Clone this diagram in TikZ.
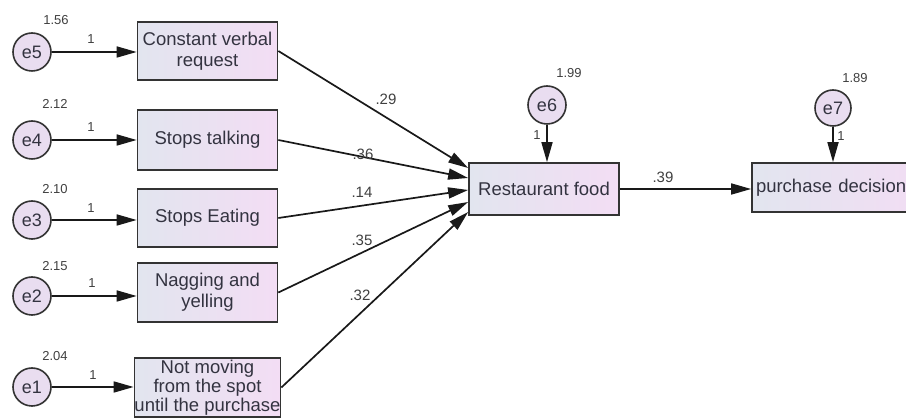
\documentclass[tikz,border=0pt]{standalone}
\usepackage{fontspec}
\setmainfont{Liberation Sans}
\usetikzlibrary{arrows.meta}
\definecolor{boxL}{HTML}{E2E5EF}
\definecolor{boxR}{HTML}{F3DDF4}
\definecolor{circF}{HTML}{E9DDF0}
\definecolor{txt}{HTML}{333340}
\definecolor{lab}{HTML}{404040}
\tikzset{
  x=1pt, y=-1pt,
  obs/.style={draw=black!80, line width=1.7pt, left color=boxL, right color=boxR,
    minimum width=140pt, inner sep=0pt, align=center, text=txt,
    font=\fontsize{18.5}{21}\selectfont},
  err/.style={circle, draw=black!80, line width=1.6pt, fill=circF, minimum size=38pt,
    inner sep=0pt, text=txt, font=\fontsize{18}{20}\selectfont},
  con/.style={draw=black!90, line width=1.7pt, -{Triangle[length=20pt,width=11pt]}},
  var/.style={text=lab, font=\fontsize{13}{15}\selectfont, inner sep=0pt},
  coef/.style={text=lab, font=\fontsize{15}{17}\selectfont, inner sep=0pt},
}
\begin{document}
\begin{tikzpicture}
\fill[white] (0,0) rectangle (906,419);
\useasboundingbox (0,0) rectangle (906,419);
% observed boxes
\node[obs, minimum height=58pt] (b5) at (207.5,51) {Constant verbal\\request};
\node[obs, minimum height=60pt] (b4) at (207.5,140) {Stops talking};
\node[obs, minimum height=58pt] (b3) at (207.5,218) {Stops Eating};
\node[obs, minimum height=59pt] (b2) at (207.5,292.5) {Nagging and\\yelling};
\node[obs, minimum height=59pt, font=\fontsize{18.5}{19}\selectfont] (b1) at (207.5,387.5) {Not moving\\from the spot\\until the purchase};
\node[obs, minimum width=150pt, minimum height=52pt] (rf) at (544,189) {Restaurant food};
\node[obs, minimum width=180pt, minimum height=49pt, text width=172pt, align=left] (pd) at (842,187.5) {purchase decision};
% error circles
\node[err] (e5) at (32,52) {e5};
\node[err] (e4) at (32,140) {e4};
\node[err] (e3) at (32,220) {e3};
\node[err] (e2) at (32,296) {e2};
\node[err] (e1) at (32,387) {e1};
\node[err] (e6) at (547,105) {e6};
\node[err, minimum size=36pt] (e7) at (833,108) {e7};
% error arrows
\draw[con] (e5) -- (e5 -| b5.west);
\draw[con] (e4) -- (e4 -| b4.west);
\draw[con] (e3) -- (e3 -| b3.west);
\draw[con] (e2) -- (e2 -| b2.west);
\draw[con] (e1) -- (e1 -| b1.west);
\draw[con] (e6) -- (e6 |- rf.north);
\draw[con] (e7) -- (e7 |- pd.north);
% structural paths
\draw[con] (b5.east) -- ([yshift=21pt]rf.west);
\draw[con] (b4.east) -- ([yshift=11pt]rf.west);
\draw[con] (b3.east) -- ([yshift=-1pt]rf.west);
\draw[con] (b2.east) -- ([yshift=-13pt]rf.west);
\draw[con] (b1.east) -- ([yshift=-23pt]rf.west);
\draw[con] (rf.east) -- (rf.east -| pd.west);
% variances
\node[var] (v5) at (56,20) {1.56};
\node[var] (v4) at (55,104) {2.12};
\node[var] (v3) at (55,189) {2.10};
\node[var] (v2) at (55,266) {2.15};
\node[var] (v1) at (55,356) {2.04};
\node[var] (v6) at (569,73) {1.99};
\node[var] (v7) at (855,78) {1.89};
% fixed loadings
\node[var] (l5) at (91,39) {1};
\node[var] (l4) at (91,127) {1};
\node[var] (l3) at (91,208) {1};
\node[var] (l2) at (92,283) {1};
\node[var] (l1) at (93,375) {1};
\node[var] (l6) at (537,135) {1};
\node[var] (l7) at (841,136) {1};
% coefficients
\node[coef] (c5) at (386,99) {.29};
\node[coef] (c4) at (363,154) {.36};
\node[coef] (c3) at (362,192) {.14};
\node[coef] (c2) at (362,240) {.35};
\node[coef] (c1) at (360,295) {.32};
\node[coef] (c6) at (663,177) {.39};
\end{tikzpicture}
\end{document}
